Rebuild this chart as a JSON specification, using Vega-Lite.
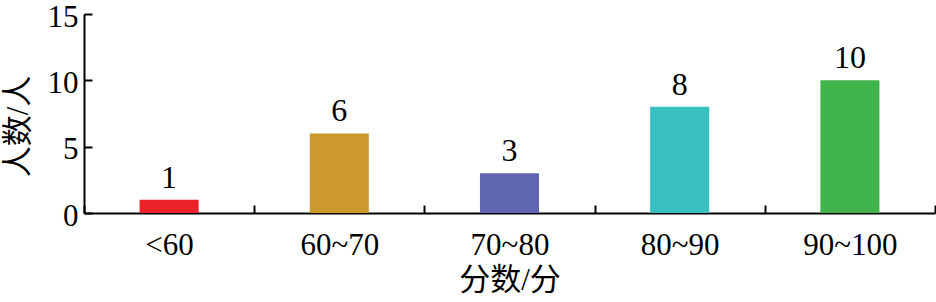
{
  "$schema": "https://vega.github.io/schema/vega-lite/v6.json",
  "width": 851,
  "height": 199,
  "autosize": {"type": "none"},
  "padding": {"left": 84, "top": 14, "right": 1, "bottom": 89},
  "background": "white",
  "config": {
    "view": {"stroke": null},
    "axis": {
      "domainColor": "black",
      "domainWidth": 2,
      "tickColor": "black",
      "tickWidth": 2,
      "grid": false,
      "labelFont": "Liberation Serif",
      "labelFontSize": 31,
      "labelColor": "black",
      "titleFont": "Liberation Serif, Noto Sans CJK SC",
      "titleFontSize": 31,
      "titleFontWeight": "normal",
      "titleColor": "black"
    }
  },
  "data": {
    "values": [
      {"range": "<60", "count": 1, "color": "#ED2129"},
      {"range": "60~70", "count": 6, "color": "#CD992D"},
      {"range": "70~80", "count": 3, "color": "#5F66AF"},
      {"range": "80~90", "count": 8, "color": "#38C0C1"},
      {"range": "90~100", "count": 10, "color": "#40B44A"}
    ]
  },
  "encoding": {
    "x": {
      "field": "range",
      "type": "nominal",
      "sort": null,
      "scale": {"paddingInner": 0, "paddingOuter": 0},
      "axis": {
        "title": "分数/分",
        "labelAngle": 0,
        "tickBand": "extent",
        "tickSize": -8,
        "labelPadding": 25,
        "titlePadding": 5
      }
    },
    "y": {
      "field": "count",
      "type": "quantitative",
      "scale": {"domain": [0, 15]},
      "axis": {
        "title": "人数/人",
        "values": [0, 5, 10, 15],
        "tickSize": -8,
        "labelPadding": 14,
        "labelOffset": 3,
        "titlePadding": 13,
        "titleY": 112
      }
    }
  },
  "layer": [
    {
      "mark": {"type": "bar", "width": {"band": 0.347}},
      "encoding": {
        "color": {"field": "color", "type": "nominal", "scale": null}
      }
    },
    {
      "mark": {
        "type": "text",
        "font": "Liberation Serif",
        "fontSize": 32,
        "baseline": "alphabetic",
        "dy": -12,
        "color": "black"
      },
      "encoding": {
        "text": {"field": "count", "type": "quantitative"}
      }
    }
  ]
}
